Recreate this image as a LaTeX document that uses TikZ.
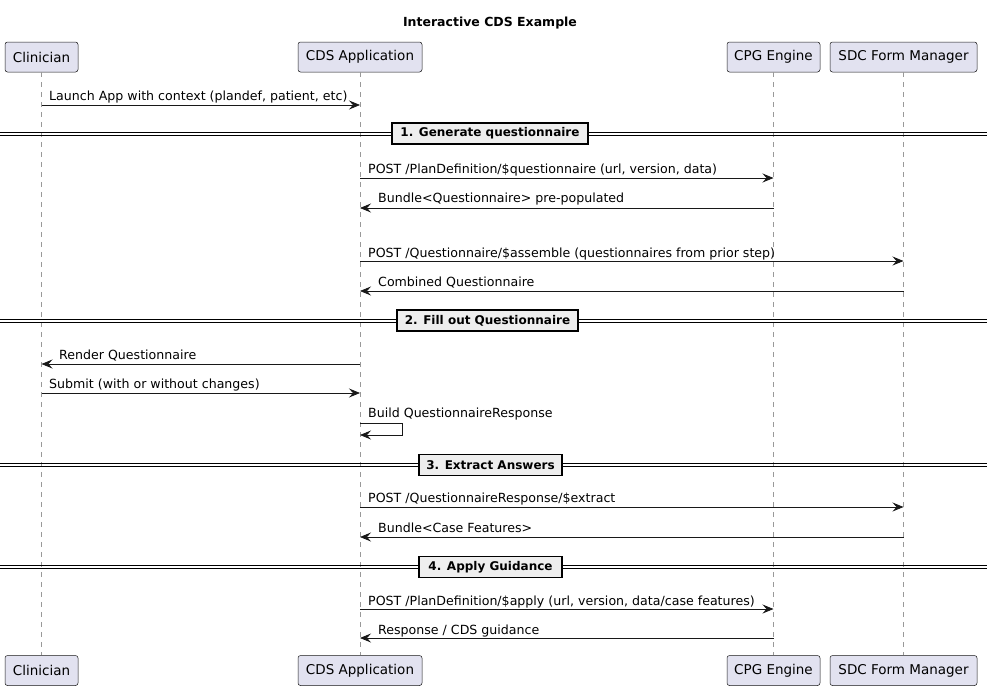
\documentclass[tikz,border=0pt]{standalone}
\usepackage{fontspec}
\setmainfont{DejaVu Sans}
\usetikzlibrary{arrows.meta}
\definecolor{partfill}{HTML}{E2E2F0}
\definecolor{partdraw}{HTML}{181818}
\definecolor{divfill}{HTML}{EEEEEE}
\begin{document}
\begin{tikzpicture}[x=1pt,y=-1pt,
  part/.style={draw=partdraw,fill=partfill,rounded corners=2.5pt,line width=0.5pt,inner sep=0pt,minimum height=30pt,font=\fontsize{13.5}{15}\selectfont},
  life/.style={draw=gray!80,line width=0.5pt,dash pattern=on 5pt off 5pt},
  msg/.style={draw=partdraw,line width=0.8pt,-{Stealth[length=11pt,width=9pt,inset=4pt]}},
  lbl/.style={font=\fontsize{12.6}{14}\selectfont,inner sep=0pt,anchor=base west},
  divbox/.style={draw=black,fill=divfill,line width=1.5pt,inner sep=0pt,minimum height=21pt,font=\bfseries\fontsize{12}{14}\selectfont},
  dline/.style={draw=black,line width=0.8pt}]
\useasboundingbox (0,0) rectangle (987,691);
\fill[white] (0,0) rectangle (987,691);
\node[font=\bfseries\fontsize{12.5}{14}\selectfont] (title) at (490,23) {Interactive CDS Example};
% participants top
\node[part,minimum width=73pt] (cl) at (41.5,57) {Clinician};
\node[part,minimum width=124pt] (cds) at (360,57) {CDS Application};
\node[part,minimum width=93pt] (cpg) at (773.5,57) {CPG Engine};
\node[part,minimum width=147pt] (sdc) at (903.5,57) {SDC Form Manager};
% participants bottom
\node[part,minimum width=73pt] (clb) at (41.5,670.5) {Clinician};
\node[part,minimum width=124pt] (cdsb) at (360,670.5) {CDS Application};
\node[part,minimum width=93pt] (cpgb) at (773.5,670.5) {CPG Engine};
\node[part,minimum width=147pt] (sdcb) at (903.5,670.5) {SDC Form Manager};
% lifelines
\draw[life] (cl) -- (clb);
\draw[life] (cds) -- (cdsb);
\draw[life] (cpg) -- (cpgb);
\draw[life] (sdc) -- (sdcb);
% dividers
\foreach \y/\n/\cx/\w/\t in {133.5/d1/490/196/{1. Generate questionnaire},320.5/d2/487.5/181/{2. Fill out Questionnaire},465/d3/490.5/143/{3. Extract Answers},567/d4/490.5/143/{4. Apply Guidance}}{
  \coordinate (\n L) at (0,\y);
  \coordinate (\n R) at (987,\y);
  \draw[dline] ([yshift=-1.6pt]\n L) -- ([yshift=-1.6pt]\n R);
  \draw[dline] ([yshift=1.6pt]\n L) -- ([yshift=1.6pt]\n R);
  \node[divbox,minimum width=\w pt] (\n) at (\cx,\y) {\t};
}
% messages
\draw[msg] (cl |- 0,105) -- (cds |- 0,105);
\node[lbl] (m1) at (49,100) {Launch App with context (plandef, patient, etc)};
\draw[msg] (cds |- 0,178) -- (cpg |- 0,178);
\node[lbl] (m2) at (368,173) {POST /PlanDefinition/\$questionnaire (url, version, data)};
\draw[msg] (cpg |- 0,208) -- (cds |- 0,208);
\node[lbl] (m3) at (378,202) {Bundle<Questionnaire> pre-populated};
\draw[msg] (cds |- 0,261) -- (sdc |- 0,261);
\node[lbl] (m4) at (368,257) {POST /Questionnaire/\$assemble (questionnaires from prior step)};
\draw[msg] (sdc |- 0,291) -- (cds |- 0,291);
\node[lbl] (m5) at (378,286) {Combined Questionnaire};
\draw[msg] (cds |- 0,364) -- (cl |- 0,364);
\node[lbl] (m6) at (59,359) {Render Questionnaire};
\draw[msg] (cl |- 0,393) -- (cds |- 0,393);
\node[lbl] (m7) at (49,388) {Submit (with or without changes)};
\draw[msg] (cds |- 0,423) -- (402,423) -- (402,435) -- (cds |- 0,435);
\node[lbl] (m8) at (368,417) {Build QuestionnaireResponse};
\draw[msg] (cds |- 0,507) -- (sdc |- 0,507);
\node[lbl] (m9) at (368,502) {POST /QuestionnaireResponse/\$extract};
\draw[msg] (sdc |- 0,537) -- (cds |- 0,537);
\node[lbl] (m10) at (378,532) {Bundle<Case Features>};
\draw[msg] (cds |- 0,609) -- (cpg |- 0,609);
\node[lbl] (m11) at (368,605) {POST /PlanDefinition/\$apply (url, version, data/case features)};
\draw[msg] (cpg |- 0,638) -- (cds |- 0,638);
\node[lbl] (m12) at (378,634) {Response / CDS guidance};
\end{tikzpicture}
\end{document}
